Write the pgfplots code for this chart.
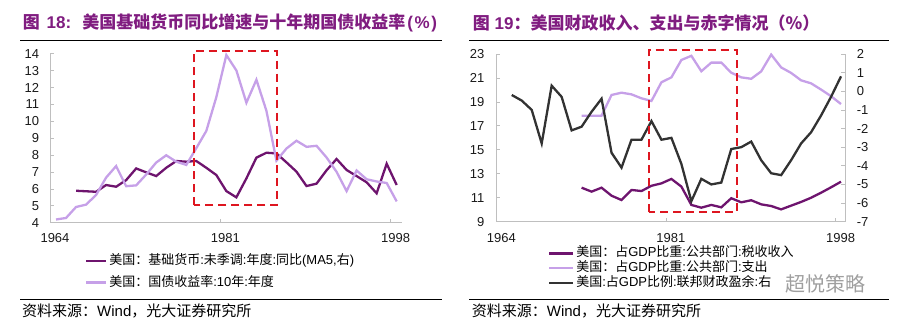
\documentclass[border=0pt]{standalone}
\usepackage{fontspec}
\setmainfont{Liberation Sans}
\newfontfamily\cjk{Noto Sans CJK SC}
\usepackage{pgfplots}
\usepackage{pgfplotstable}
\pgfplotsset{compat=1.18}

\definecolor{darkp}{RGB}{110,20,110}
\definecolor{lightp}{RGB}{198,160,232}
\definecolor{titlep}{RGB}{128,28,128}
\definecolor{boxred}{RGB}{222,22,32}
\definecolor{axgray}{RGB}{191,191,191}
\definecolor{blk}{RGB}{50,50,50}

% Left panel: 10y treasury yield (%)
\pgfplotstableread{
year v
1964 4.19
1965 4.28
1966 4.93
1967 5.07
1968 5.64
1969 6.67
1970 7.35
1971 6.16
1972 6.21
1973 6.85
1974 7.56
1975 7.99
1976 7.61
1977 7.42
1978 8.41
1979 9.43
1980 11.43
1981 13.92
1982 13.01
1983 11.10
1984 12.46
1985 10.62
1986 7.67
1987 8.39
1988 8.85
1989 8.49
1990 8.55
1991 7.86
1992 7.01
1993 5.87
1994 7.09
1995 6.57
1996 6.44
1997 6.35
1998 5.26
}\yieldtab

% Left panel: monetary base yoy (MA5)
\pgfplotstableread{
year v
1966 5.89
1967 5.86
1968 5.83
1969 6.23
1970 6.13
1971 6.52
1972 7.21
1973 6.98
1974 6.76
1975 7.25
1976 7.65
1977 7.61
1978 7.65
1979 7.25
1980 6.82
1981 5.87
1982 5.50
1983 6.62
1984 7.85
1985 8.14
1986 8.10
1987 7.57
1988 7.02
1989 6.17
1990 6.31
1991 7.10
1992 7.77
1993 7.12
1994 6.76
1995 6.39
1996 5.74
1997 7.49
1998 6.23
}\mbtab

% Right panel: revenue and expenditure (% of GDP)
\pgfplotstableread{
year rev exp
1972 11.84 17.85
1973 11.51 17.85
1974 11.84 17.85
1975 11.17 19.58
1976 10.81 19.77
1977 11.65 19.63
1978 11.56 19.30
1979 12.00 19.08
1980 12.20 20.64
1981 12.57 21.05
1982 11.93 22.50
1983 10.40 22.85
1984 10.17 21.56
1985 10.40 22.28
1986 10.20 22.28
1987 10.96 21.44
1988 10.62 21.05
1989 10.79 20.93
1990 10.45 21.55
1991 10.31 22.95
1992 10.03 21.88
1993 10.34 21.42
1994 10.65 20.80
1995 11.00 20.55
1996 11.42 20.03
1997 11.87 19.48
1998 12.34 18.82
}\fiscaltab

% Right panel: federal surplus/deficit (% of GDP, right axis)
\pgfplotstableread{
year v
1965 -0.2
1966 -0.5
1967 -1.0
1968 -2.8
1969 0.3
1970 -0.3
1971 -2.1
1972 -1.9
1973 -1.1
1974 -0.4
1975 -3.3
1976 -4.1
1977 -2.6
1978 -2.6
1979 -1.6
1980 -2.6
1981 -2.5
1982 -3.9
1983 -5.9
1984 -4.7
1985 -5.0
1986 -4.9
1987 -3.1
1988 -3.0
1989 -2.7
1990 -3.7
1991 -4.4
1992 -4.5
1993 -3.7
1994 -2.8
1995 -2.2
1996 -1.3
1997 -0.3
1998 0.8
}\deftab

\pgfplotsset{
  base/.style={
    scale only axis,
    clip=false,
    axis line style={axgray, line width=0.8bp, -},
    tick style={axgray, line width=0.8bp},
    major tick length=4bp,
    tick label style={font=\fontsize{13bp}{13bp}\selectfont, text=black!90},
    /pgf/number format/assume math mode=true,
    xtick={1964,1981,1998},
    xticklabels={1964,1981,1998},
    legend cell align=left,
  },
  lg/.style={
    legend style={draw=none, fill=none, inner sep=0pt, outer sep=0pt,
      column sep=2bp, font=\fontsize{13bp}{13bp}\selectfont,
      cells={anchor=west},
      nodes={inner sep=0pt, text height=10bp, text depth=3bp}},
  },
}

\begin{document}
\begin{tikzpicture}
\path[use as bounding box] (0bp,0bp) rectangle (900bp,-326bp);

% ---------- titles, rules, sources ----------
\node[anchor=west,inner sep=0pt,text=titlep,font=\fontsize{17bp}{20bp}\selectfont] at (22.7bp,-23bp)
  {{\cjk\bfseries 图}\hspace{2bp} {\bfseries 18:}\hspace{5bp} {\cjk\bfseries 美国基础货币同比增速与十年期国债收益率}\hspace{2bp}{\bfseries(\hspace{1.5bp}\%\hspace{1.5bp})}};
\node[anchor=west,inner sep=0pt,text=titlep,font=\fontsize{17bp}{20bp}\selectfont] at (472.7bp,-23bp)
  {{\cjk\bfseries 图} {\bfseries 19}{\cjk\bfseries ：美国财政收入、支出与赤字情况（\%）}};
\draw[line width=1bp] (20bp,-40bp) -- (442bp,-40bp);
\draw[line width=1bp] (469bp,-40bp) -- (889bp,-40bp);
\draw[line width=1bp] (20bp,-299bp) -- (442bp,-299bp);
\draw[line width=1bp] (469bp,-299bp) -- (889bp,-299bp);
\node[anchor=west,inner sep=0pt,font=\fontsize{15bp}{15bp}\selectfont] at (22bp,-311bp)
  {{\cjk 资料来源：}Wind{\cjk ，光大证券研究所}};
\node[anchor=west,inner sep=0pt,font=\fontsize{15bp}{15bp}\selectfont] at (471.7bp,-311bp)
  {{\cjk 资料来源：}Wind{\cjk ，光大证券研究所}};

% ---------- left panel ----------
\begin{axis}[base, lg,
  at={(50bp,-222.7bp)}, anchor=south west,
  width=351.7bp, height=169bp,
  xmin=1964, xmax=1999.1, ymin=4, ymax=14,
  ytick={4,5,...,14},
  axis x line*=bottom, axis y line*=left, tick pos=left,
  xticklabel style={anchor=north, inner ysep=0pt, xshift=5bp, yshift=-10.6bp},
  yticklabel style={anchor=east, inner xsep=0pt, xshift=-10.7bp},
  legend image code/.code={\draw[#1] (0bp,0bp) -- (20bp,0bp);},
  legend style={at={(0.0995,-0.29)}, anchor=west, row sep=8.7bp},
]
\addplot[darkp, line width=2.3bp] table[x expr=\thisrow{year}+0.6, y=v] {\mbtab};
\addlegendentry{{\cjk 美国：基础货币}:{\cjk 未季调}:{\cjk 年度}:{\cjk 同比}(MA5,{\cjk 右})}
\addplot[lightp, line width=2.3bp] table[x expr=\thisrow{year}+0.6, y=v] {\yieldtab};
\addlegendentry{{\cjk 美国：国债收益率}:10{\cjk 年}:{\cjk 年度}}
\draw[boxred, line width=2.2bp, dash pattern=on 8bp off 5bp]
  (axis cs:1978.41,5.03) rectangle (axis cs:1986.63,14.18);
\end{axis}

% ---------- right panel, left y axis ----------
\begin{axis}[base,
  at={(496.3bp,-221.7bp)}, anchor=south west,
  width=348.7bp, height=167.7bp,
  xmin=1964, xmax=1998.95, ymin=9, ymax=23,
  ytick={9,11,...,23},
  axis x line*=bottom, axis y line*=left, tick pos=left,
  xticklabel style={anchor=north, inner ysep=0pt, xshift=5bp, yshift=-11.6bp},
  yticklabel style={anchor=east, inner xsep=0pt, xshift=-11.7bp},
]
\addplot[darkp, line width=2.3bp] table[x expr=\thisrow{year}+0.55, y=rev] {\fiscaltab};
\addplot[lightp, line width=2.3bp] table[x expr=\thisrow{year}+0.55, y=exp] {\fiscaltab};
\end{axis}

% ---------- right panel, right y axis ----------
\begin{axis}[base, lg,
  at={(496.3bp,-221.7bp)}, anchor=south west,
  width=348.7bp, height=167.7bp,
  xmin=1964, xmax=1998.95, ymin=-7, ymax=2,
  ytick={-7,-6,...,2},
  yticklabels={-7,-6,-5,-4,-3,-2,-1,0,1,2},
  axis x line=none, axis y line*=right, ytick pos=right, yticklabel pos=right,
  xtick=\empty,
  yticklabel style={anchor=west, inner xsep=0pt, xshift=11.7bp},
  legend image code/.code={\draw[#1] (0bp,0bp) -- (24bp,0bp);},
  legend style={at={(0.1483,-0.277)}, anchor=west, row sep=1.7bp},
]
\addlegendimage{darkp, line width=2.3bp}
\addlegendentry{{\cjk 美国：占}GDP{\cjk 比重}:{\cjk 公共部门}:{\cjk 税收收入}}
\addlegendimage{lightp, line width=2.3bp}
\addlegendentry{{\cjk 美国：占}GDP{\cjk 比重}:{\cjk 公共部门}:{\cjk 支出}}
\addplot[blk, line width=2.3bp] table[x expr=\thisrow{year}+0.55, y=v] {\deftab};
\addlegendentry{{\cjk 美国}:{\cjk 占}GDP{\cjk 比例}:{\cjk 联邦财政盈余}:{\cjk 右}}
\draw[boxred, line width=2.2bp, dash pattern=on 8bp off 5bp]
  (axis cs:1979.3,-6.50) rectangle (axis cs:1988.09,2.21);
\end{axis}

\node[anchor=west,inner sep=0pt,text=gray!75,font=\fontsize{20bp}{20bp}\selectfont] at (785bp,-284bp)
  {\cjk 超悦策略};
\end{tikzpicture}
\end{document}
